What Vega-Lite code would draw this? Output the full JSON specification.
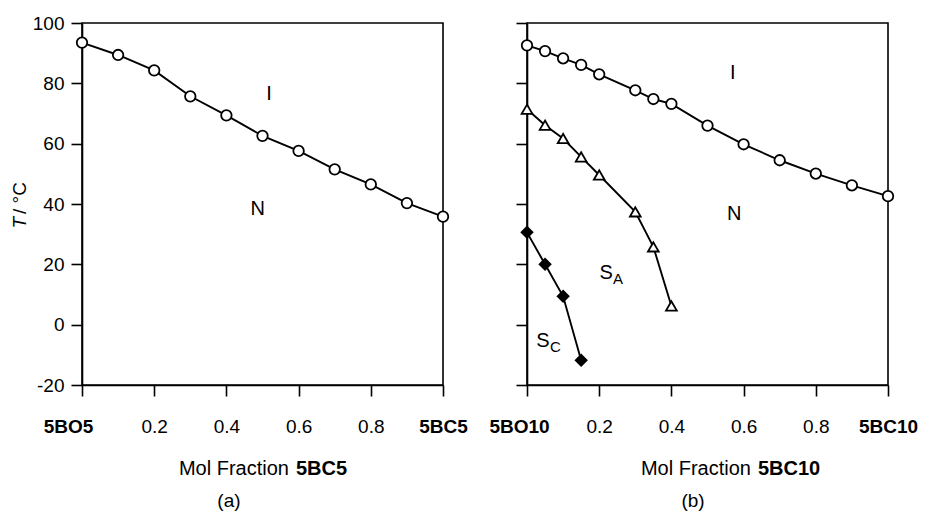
{
  "$schema": "https://vega.github.io/schema/vega-lite/v6.json",
  "padding": {"left": 9, "top": 13, "right": 0, "bottom": 0},
  "spacing": 19,
  "config": {
    "view": {"stroke": "black", "strokeWidth": 1.6},
    "font": "Liberation Sans",
    "axis": {"grid": false, "domainColor": "black", "domainWidth": 1.6, "tickColor": "black", "tickWidth": 1.6, "tickSize": 11, "labelColor": "black", "labelFont": "Liberation Sans", "labelFontSize": 19},
    "text": {"font": "Liberation Sans", "color": "black"}
  },
  "data": {"values": [
    {"panel": "a", "series": "NI", "x": 0, "y": 93.5},
    {"panel": "a", "series": "NI", "x": 0.1, "y": 89.4},
    {"panel": "a", "series": "NI", "x": 0.2, "y": 84.3},
    {"panel": "a", "series": "NI", "x": 0.3, "y": 75.7},
    {"panel": "a", "series": "NI", "x": 0.4, "y": 69.4},
    {"panel": "a", "series": "NI", "x": 0.5, "y": 62.6},
    {"panel": "a", "series": "NI", "x": 0.6, "y": 57.6},
    {"panel": "a", "series": "NI", "x": 0.7, "y": 51.5},
    {"panel": "a", "series": "NI", "x": 0.8, "y": 46.5},
    {"panel": "a", "series": "NI", "x": 0.9, "y": 40.3},
    {"panel": "a", "series": "NI", "x": 1, "y": 35.8},
    {"panel": "b", "series": "NI", "x": 0, "y": 92.6},
    {"panel": "b", "series": "NI", "x": 0.05, "y": 90.7},
    {"panel": "b", "series": "NI", "x": 0.1, "y": 88.3},
    {"panel": "b", "series": "NI", "x": 0.15, "y": 86.1},
    {"panel": "b", "series": "NI", "x": 0.2, "y": 83.0},
    {"panel": "b", "series": "NI", "x": 0.3, "y": 77.7},
    {"panel": "b", "series": "NI", "x": 0.35, "y": 74.8},
    {"panel": "b", "series": "NI", "x": 0.4, "y": 73.2},
    {"panel": "b", "series": "NI", "x": 0.5, "y": 66.0},
    {"panel": "b", "series": "NI", "x": 0.6, "y": 59.8},
    {"panel": "b", "series": "NI", "x": 0.7, "y": 54.5},
    {"panel": "b", "series": "NI", "x": 0.8, "y": 50.1},
    {"panel": "b", "series": "NI", "x": 0.9, "y": 46.2},
    {"panel": "b", "series": "NI", "x": 1, "y": 42.6},
    {"panel": "b", "series": "SAN", "x": 0, "y": 71.4},
    {"panel": "b", "series": "SAN", "x": 0.05, "y": 66.1},
    {"panel": "b", "series": "SAN", "x": 0.1, "y": 61.7},
    {"panel": "b", "series": "SAN", "x": 0.15, "y": 55.6},
    {"panel": "b", "series": "SAN", "x": 0.2, "y": 49.6},
    {"panel": "b", "series": "SAN", "x": 0.3, "y": 37.4},
    {"panel": "b", "series": "SAN", "x": 0.35, "y": 25.8},
    {"panel": "b", "series": "SAN", "x": 0.4, "y": 6.2},
    {"panel": "b", "series": "SCSA", "x": 0, "y": 30.6},
    {"panel": "b", "series": "SCSA", "x": 0.05, "y": 20.0},
    {"panel": "b", "series": "SCSA", "x": 0.1, "y": 9.4},
    {"panel": "b", "series": "SCSA", "x": 0.15, "y": -11.8},
    {"panel": "a", "role": "region", "text": "I", "x": 0.518, "y": 76.6},
    {"panel": "a", "role": "region", "text": "N", "x": 0.487, "y": 38.5},
    {"panel": "b", "role": "region", "text": "I", "x": 0.57, "y": 83.3},
    {"panel": "b", "role": "region", "text": "N", "x": 0.574, "y": 36.8},
    {"panel": "b", "role": "region", "text": "S", "sub": "A", "x": 0.219, "y": 17.1},
    {"panel": "b", "role": "region", "text": "S", "sub": "C", "x": 0.044, "y": -5.4},
    {"panel": "a", "role": "xtitle", "text": "Mol Fraction", "bold": "5BC5", "x": 0.583, "y": -49.8},
    {"panel": "b", "role": "xtitle", "text": "Mol Fraction", "bold": "5BC10", "x": 0.63, "y": -49.8},
    {"panel": "a", "role": "caption", "text": "(a)", "x": 0.407, "y": -60.4},
    {"panel": "b", "role": "caption", "text": "(b)", "x": 0.46, "y": -60.4},
    {"panel": "a", "role": "ytitle", "text": "T", "rest": "/ °C", "x": -0.173, "y": 35.7}
  ]},
  "hconcat": [
    {
      "width": 361,
      "height": 362,
      "transform": [{"filter": "datum.panel == 'a'"}],
      "encoding": {
        "x": {"field": "x", "type": "quantitative", "scale": {"domain": [0, 1], "nice": false, "zero": false},
          "axis": {"title": null, "values": [0, 0.2, 0.4, 0.6, 0.8, 1], "labelPadding": 21, "labelFlush": false,
            "labelExpr": "datum.value == 0 ? '5BO5' : datum.value == 1 ? '5BC5' : format(datum.value, '.1f')",
            "labelFontWeight": {"condition": {"test": "datum.value == 0 || datum.value == 1", "value": "bold"}, "value": "normal"},
            "labelOffset": {"condition": {"test": "datum.value == 0", "value": -14}, "value": 0}}},
        "y": {"field": "y", "type": "quantitative", "scale": {"domain": [-20, 100], "nice": false, "zero": false},
          "axis": {"title": null, "values": [-20, 0, 20, 40, 60, 80, 100], "labelPadding": 7, "labelExpr": "'' + datum.value"}}
      },
      "layer": [
        {"transform": [{"filter": "isValid(datum.series)"}], "mark": {"type": "line", "color": "black", "strokeWidth": 1.9}, "encoding": {"detail": {"field": "series"}}},
        {"transform": [{"filter": "isValid(datum.series)"}], "mark": {"type": "point", "filled": true, "stroke": "black", "strokeWidth": 1.8, "opacity": 1, "fillOpacity": 1},
          "encoding": {
            "shape": {"field": "series", "scale": {"domain": ["NI", "SAN", "SCSA"], "range": ["circle", "triangle-up", "diamond"]}, "legend": null},
            "fill": {"field": "series", "scale": {"domain": ["NI", "SAN", "SCSA"], "range": ["white", "white", "black"]}, "legend": null},
            "size": {"field": "series", "scale": {"domain": ["NI", "SAN", "SCSA"], "range": [110, 120, 100]}, "legend": null}
          }},
        {"transform": [{"filter": "datum.role == 'region'"}], "mark": {"type": "text", "fontSize": 20, "align": "center", "baseline": "middle"}, "encoding": {"text": {"field": "text"}}},
        {"transform": [{"filter": "datum.role == 'xtitle'"}], "mark": {"type": "text", "fontSize": 20, "align": "right", "baseline": "alphabetic", "dx": -3.5}, "encoding": {"text": {"field": "text"}}},
        {"transform": [{"filter": "datum.role == 'xtitle'"}], "mark": {"type": "text", "fontSize": 20, "fontWeight": "bold", "align": "left", "baseline": "alphabetic", "dx": 3.5}, "encoding": {"text": {"field": "bold"}}},
        {"transform": [{"filter": "datum.role == 'caption'"}], "mark": {"type": "text", "fontSize": 19, "align": "center", "baseline": "alphabetic"}, "encoding": {"text": {"field": "text"}}},
        {"transform": [{"filter": "datum.role == 'ytitle'"}], "mark": {"type": "text", "fontSize": 19, "fontStyle": "italic", "align": "right", "baseline": "middle", "angle": 270}, "encoding": {"text": {"field": "text"}}},
        {"transform": [{"filter": "datum.role == 'ytitle'"}], "mark": {"type": "text", "fontSize": 19, "align": "left", "baseline": "middle", "angle": 270, "dx": 3}, "encoding": {"text": {"field": "rest"}}}
      ]
    },
    {
      "width": 361,
      "height": 362,
      "transform": [{"filter": "datum.panel == 'b'"}],
      "encoding": {
        "x": {"field": "x", "type": "quantitative", "scale": {"domain": [0, 1], "nice": false, "zero": false},
          "axis": {"title": null, "values": [0, 0.2, 0.4, 0.6, 0.8, 1], "labelPadding": 21, "labelFlush": false,
            "labelExpr": "datum.value == 0 ? '5BO10' : datum.value == 1 ? '5BC10' : format(datum.value, '.1f')",
            "labelFontWeight": {"condition": {"test": "datum.value == 0 || datum.value == 1", "value": "bold"}, "value": "normal"},
            "labelOffset": {"condition": {"test": "datum.value == 0", "value": -8}, "value": 0}}},
        "y": {"field": "y", "type": "quantitative", "scale": {"domain": [-20, 100], "nice": false, "zero": false},
          "axis": {"title": null, "values": [-20, 0, 20, 40, 60, 80, 100], "labels": false}}
      },
      "layer": [
        {"transform": [{"filter": "isValid(datum.series)"}], "mark": {"type": "line", "color": "black", "strokeWidth": 1.9}, "encoding": {"detail": {"field": "series"}}},
        {"transform": [{"filter": "isValid(datum.series)"}], "mark": {"type": "point", "filled": true, "stroke": "black", "strokeWidth": 1.8, "opacity": 1, "fillOpacity": 1},
          "encoding": {
            "shape": {"field": "series", "scale": {"domain": ["NI", "SAN", "SCSA"], "range": ["circle", "triangle-up", "diamond"]}, "legend": null},
            "fill": {"field": "series", "scale": {"domain": ["NI", "SAN", "SCSA"], "range": ["white", "white", "black"]}, "legend": null},
            "size": {"field": "series", "scale": {"domain": ["NI", "SAN", "SCSA"], "range": [110, 120, 100]}, "legend": null}
          }},
        {"transform": [{"filter": "datum.role == 'region'"}], "mark": {"type": "text", "fontSize": 20, "align": "center", "baseline": "middle"}, "encoding": {"text": {"field": "text"}}},
        {"transform": [{"filter": "datum.role == 'region' && isValid(datum.sub)"}], "mark": {"type": "text", "fontSize": 15, "align": "left", "baseline": "middle", "dx": 7, "dy": 6}, "encoding": {"text": {"field": "sub"}}},
        {"transform": [{"filter": "datum.role == 'xtitle'"}], "mark": {"type": "text", "fontSize": 20, "align": "right", "baseline": "alphabetic", "dx": -3.5}, "encoding": {"text": {"field": "text"}}},
        {"transform": [{"filter": "datum.role == 'xtitle'"}], "mark": {"type": "text", "fontSize": 20, "fontWeight": "bold", "align": "left", "baseline": "alphabetic", "dx": 3.5}, "encoding": {"text": {"field": "bold"}}},
        {"transform": [{"filter": "datum.role == 'caption'"}], "mark": {"type": "text", "fontSize": 19, "align": "center", "baseline": "alphabetic"}, "encoding": {"text": {"field": "text"}}}
      ]
    }
  ]
}
